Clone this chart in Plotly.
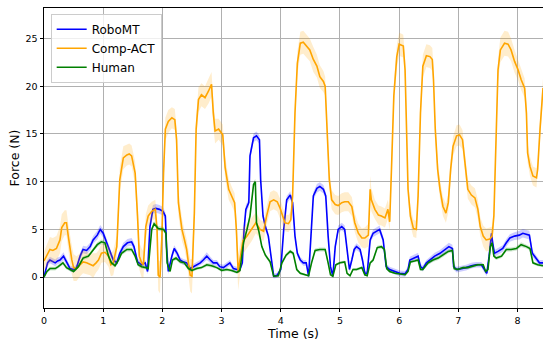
import plotly.graph_objects as go

# ---------------- data ----------------
comp_t = [0.00,0.05,0.10,0.15,0.21,0.27,0.30,0.35,0.38,0.41,
          0.44,0.47,0.50,0.55,0.61,0.66,0.72,0.78,0.83,0.88,
          0.92,0.97,1.03,1.09,1.13,1.17,1.23,1.28,1.34,1.40,
          1.44,1.48,1.54,1.58,1.61,1.65,1.68,1.72,1.76,1.82,
          1.88,1.91,1.93,1.96,1.99,2.02,2.05,2.10,2.16,2.21,
          2.24,2.27,2.33,2.37,2.41,2.44,2.47,2.50,2.54,2.57,
          2.61,2.66,2.72,2.78,2.83,2.86,2.89,2.95,3.02,3.06,
          3.12,3.17,3.22,3.25,3.28,3.31,3.36,3.43,3.51,3.58,
          3.65,3.71,3.76,3.82,3.88,3.94,3.99,4.03,4.07,4.13,
          4.17,4.20,4.24,4.28,4.33,4.38,4.44,4.49,4.55,4.61,
          4.66,4.72,4.75,4.78,4.82,4.86,4.92,4.97,5.03,5.08,
          5.14,5.20,5.25,5.31,5.37,5.42,5.48,5.51,5.53,5.59,
          5.65,5.70,5.76,5.81,5.84,5.87,5.91,5.96,6.00,6.04,
          6.07,6.10,6.12,6.15,6.19,6.24,6.29,6.32,6.36,6.40,
          6.46,6.52,6.56,6.58,6.61,6.65,6.69,6.74,6.79,6.83,
          6.87,6.91,6.97,7.02,7.07,7.11,7.16,7.22,7.28,7.33,
          7.37,7.42,7.47,7.53,7.57,7.60,7.63,7.67,7.71,7.78,
          7.84,7.89,7.95,8.01,8.06,8.12,8.15,8.17,8.21,8.26,
          8.32,8.34,8.38,8.43]
comp_v = [1.7,2.3,2.9,2.8,3.0,3.9,5.2,5.7,5.7,4.3,
          2.8,1.8,1.0,0.9,1.3,1.6,1.5,1.3,1.2,1.5,
          1.8,2.5,2.6,2.2,1.3,1.5,3.2,10.2,12.5,12.8,
          12.9,12.7,10.9,6.4,2.2,1.5,1.3,5.3,6.4,6.9,
          7.1,5.0,0.2,0.0,4.0,11.0,15.5,16.3,16.7,16.5,
          14.4,7.8,5.0,4.0,2.9,1.5,0.2,0.1,6.7,15.5,
          18.6,19.1,18.8,19.5,20.2,17.2,15.3,15.5,14.9,11.5,
          9.2,8.5,7.8,5.0,0.5,1.8,3.8,4.3,5.0,5.7,
          5.0,4.8,6.4,7.9,8.1,7.9,7.2,6.4,5.7,5.6,
          6.0,8.5,17.2,22.4,24.5,24.6,24.2,23.8,22.8,22.1,
          21.0,20.5,20.0,15.5,10.2,8.1,7.6,7.5,7.8,7.9,
          7.9,7.4,5.7,4.6,4.1,4.1,4.4,9.2,8.1,7.1,
          6.5,6.4,6.2,7.1,5.8,11.3,19.0,23.1,24.4,24.3,
          24.2,21.7,15.5,9.2,6.4,5.1,5.0,8.5,17.2,22.1,
          23.2,23.1,22.8,20.7,15.5,11.3,9.2,7.4,6.7,7.8,
          11.3,13.7,14.8,14.9,14.4,12.0,9.2,8.6,8.3,7.1,
          5.3,4.3,3.9,4.0,4.3,6.4,13.7,21.7,23.8,24.5,
          24.4,23.8,22.6,21.7,20.7,19.8,17.2,13.0,11.6,10.6,
          10.4,11.3,15.5,19.8]
comp_s = [1.0,1.2,1.3,1.3,1.3,1.4,1.4,1.3,1.3,1.3,
          1.4,1.5,1.4,1.3,1.2,1.2,1.2,1.1,1.3,1.0,
          1.0,1.0,1.0,1.1,1.2,1.3,1.2,1.3,1.2,1.1,
          1.1,1.1,1.2,1.3,1.4,1.5,1.4,1.3,1.1,1.0,
          1.0,1.3,1.6,1.7,1.5,1.3,1.2,1.2,1.1,1.1,
          1.2,1.3,1.2,1.0,1.1,1.4,1.7,1.8,1.4,1.3,
          1.3,1.2,1.2,1.3,1.3,1.4,1.3,1.1,1.1,1.2,
          1.1,1.0,1.0,1.3,1.9,1.6,1.4,1.3,1.2,1.1,
          1.0,1.0,1.0,1.0,1.0,1.0,1.0,0.9,0.9,0.9,
          0.9,1.0,1.1,1.2,1.2,1.2,1.2,1.2,1.3,1.2,
          1.2,1.1,1.0,1.0,1.0,1.0,1.0,1.0,1.0,1.0,
          1.0,1.0,1.0,1.0,1.0,1.1,1.2,1.4,1.2,1.0,
          1.0,1.0,1.0,1.0,1.0,1.2,1.2,1.2,1.2,1.2,
          1.2,1.1,1.0,1.0,1.0,0.9,0.9,1.0,1.1,1.2,
          1.2,1.2,1.2,1.1,1.0,1.0,1.0,1.0,1.0,1.0,
          1.0,1.0,1.1,1.1,1.0,1.0,1.0,1.0,1.0,1.0,
          1.0,1.1,1.2,1.2,1.0,1.0,1.1,1.2,1.3,1.3,
          1.3,1.2,1.2,1.1,1.1,1.0,1.0,1.0,1.0,1.0,
          1.0,1.0,1.0,1.0]

robo_t = [0.00,0.03,0.06,0.10,0.15,0.19,0.23,0.27,0.33,0.38,
          0.44,0.50,0.55,0.61,0.66,0.72,0.78,0.83,0.90,0.95,
          1.00,1.06,1.12,1.17,1.23,1.28,1.34,1.41,1.48,1.52,
          1.58,1.65,1.71,1.75,1.79,1.84,1.89,1.95,2.01,2.05,
          2.07,2.10,2.16,2.20,2.25,2.30,2.35,2.41,2.47,2.52,
          2.58,2.64,2.69,2.75,2.81,2.86,2.92,2.97,3.03,3.09,
          3.14,3.20,3.26,3.31,3.35,3.38,3.41,3.46,3.48,3.54,
          3.59,3.64,3.66,3.70,3.74,3.79,3.85,3.88,3.94,4.00,
          4.05,4.10,4.16,4.20,4.24,4.28,4.33,4.38,4.43,4.47,
          4.51,4.55,4.61,4.66,4.72,4.76,4.80,4.84,4.88,4.92,
          4.97,5.03,5.08,5.12,5.16,5.20,5.24,5.28,5.34,5.38,
          5.42,5.46,5.51,5.56,5.62,5.67,5.73,5.78,5.84,5.93,
          6.01,6.10,6.15,6.18,6.25,6.32,6.36,6.40,6.46,6.52,
          6.60,6.69,6.77,6.84,6.90,6.92,6.97,7.05,7.13,7.22,
          7.30,7.39,7.44,7.48,7.52,7.56,7.58,7.61,7.67,7.75,
          7.81,7.87,7.95,8.03,8.09,8.16,8.20,8.25,8.31,8.37,
          8.43]
robo_v = [0.0,0.9,1.5,1.8,1.6,1.5,1.7,1.8,2.2,1.6,
          0.9,0.8,1.0,2.2,2.9,2.8,3.2,3.9,4.4,5.0,
          4.6,3.6,2.5,1.8,1.5,2.5,3.2,3.6,3.7,3.2,
          1.6,1.3,1.5,0.6,5.3,7.1,7.2,7.1,6.9,6.4,
          3.2,0.6,2.2,3.0,2.5,1.8,1.6,1.5,0.9,1.1,
          1.3,1.5,1.8,2.2,1.8,1.5,1.5,1.1,1.0,1.3,
          1.5,0.9,0.8,0.8,1.5,5.0,7.1,7.8,12.7,14.6,
          14.8,14.4,10.2,6.4,5.3,4.3,1.8,0.1,0.2,0.8,
          5.0,8.1,8.6,7.8,4.3,2.5,1.8,1.5,1.5,0.1,
          4.3,8.5,9.3,9.5,9.2,8.5,4.3,1.1,0.1,3.2,
          5.0,5.3,5.0,2.9,0.8,1.8,2.9,3.2,2.9,1.8,
          0.4,0.4,3.9,4.6,4.8,5.0,3.9,1.1,0.8,0.6,
          0.4,0.35,0.8,1.8,2.0,2.2,1.1,0.9,1.5,1.8,
          2.2,2.5,2.9,3.2,3.0,1.1,0.8,0.9,1.0,1.2,
          1.3,1.3,0.8,0.4,2.2,4.6,3.6,2.5,2.7,3.0,
          3.6,4.1,4.3,4.4,4.6,4.5,4.4,2.5,2.0,1.5,
          1.5]
robo_s = [0.2,0.3,0.35,0.35,0.35,0.35,0.35,0.35,0.4,0.35,
          0.3,0.3,0.3,0.35,0.4,0.4,0.4,0.4,0.45,0.45,
          0.45,0.4,0.35,0.3,0.3,0.35,0.4,0.4,0.4,0.4,
          0.35,0.3,0.3,0.3,0.4,0.45,0.45,0.45,0.45,0.4,
          0.4,0.3,0.35,0.35,0.35,0.3,0.3,0.3,0.3,0.3,
          0.3,0.3,0.35,0.4,0.35,0.3,0.3,0.3,0.3,0.3,
          0.3,0.3,0.3,0.3,0.3,0.4,0.45,0.45,0.45,0.45,
          0.45,0.45,0.4,0.4,0.35,0.35,0.3,0.25,0.25,0.3,
          0.35,0.4,0.4,0.4,0.35,0.3,0.3,0.3,0.3,0.25,
          0.35,0.4,0.45,0.45,0.45,0.4,0.35,0.3,0.25,0.35,
          0.4,0.4,0.4,0.35,0.3,0.3,0.35,0.35,0.35,0.3,
          0.25,0.25,0.35,0.4,0.4,0.4,0.35,0.3,0.3,0.3,
          0.3,0.3,0.3,0.35,0.35,0.35,0.3,0.3,0.3,0.35,
          0.35,0.35,0.4,0.4,0.4,0.3,0.3,0.3,0.3,0.3,
          0.3,0.3,0.3,0.3,0.35,0.45,0.4,0.35,0.35,0.35,
          0.4,0.4,0.4,0.45,0.45,0.45,0.45,0.35,0.3,0.3,
          0.3]

human_t = [0.00,0.05,0.10,0.19,0.24,0.32,0.38,0.44,0.50,0.58,
           0.66,0.75,0.83,0.90,0.97,1.03,1.09,1.14,1.20,1.26,
           1.31,1.40,1.48,1.54,1.59,1.65,1.72,1.76,1.82,1.86,
           1.93,2.02,2.06,2.08,2.13,2.17,2.23,2.30,2.37,2.44,
           2.50,2.58,2.66,2.75,2.83,2.92,3.00,3.09,3.17,3.26,
           3.31,3.37,3.43,3.48,3.54,3.57,3.59,3.63,3.68,3.74,
           3.82,3.88,3.96,4.02,4.09,4.16,4.21,4.27,4.33,4.41,
           4.47,4.52,4.58,4.66,4.75,4.80,4.84,4.88,4.93,5.00,
           5.08,5.12,5.17,5.22,5.28,5.37,5.42,5.46,5.51,5.56,
           5.63,5.70,5.75,5.79,5.84,5.93,6.01,6.10,6.15,6.19,
           6.26,6.32,6.36,6.40,6.49,6.57,6.66,6.74,6.83,6.90,
           6.93,6.99,7.08,7.16,7.25,7.33,7.42,7.46,7.50,7.54,
           7.57,7.60,7.64,7.73,7.81,7.89,7.98,8.06,8.15,8.21,
           8.26,8.34,8.43]
human_v = [0.0,0.6,0.9,0.9,1.1,1.5,1.0,0.8,0.6,1.1,
           2.0,2.2,2.9,3.4,3.7,3.6,2.2,1.5,1.2,1.8,
           2.5,2.9,2.9,2.2,1.3,1.1,1.0,0.9,5.0,5.6,
           5.1,5.0,4.6,1.5,0.6,1.8,2.0,1.6,1.5,0.9,
           0.7,0.9,1.0,1.3,1.2,1.0,0.7,0.8,0.7,0.5,
           0.7,3.6,5.0,6.4,9.7,10.0,5.7,4.8,3.2,2.3,
           1.6,0.1,0.15,1.5,2.3,2.7,2.5,0.8,0.4,0.25,
           0.15,1.5,2.8,2.9,2.9,1.5,0.25,0.1,1.3,1.5,
           1.6,0.4,0.15,0.8,0.8,1.0,0.25,0.15,1.5,1.8,
           3.1,3.2,2.9,0.9,0.6,0.4,0.35,0.25,0.6,1.6,
           1.7,1.8,0.8,0.8,1.5,1.8,2.0,2.3,2.7,2.8,
           0.9,0.8,1.0,1.0,1.2,1.3,1.3,0.6,0.8,3.2,
           3.6,2.2,2.0,2.2,2.9,2.9,3.0,3.4,3.2,3.0,
           1.5,1.3,1.2]
human_s = [0.1,0.15,0.2,0.2,0.2,0.2,0.2,0.2,0.15,0.2,
           0.2,0.2,0.2,0.25,0.25,0.25,0.2,0.2,0.2,0.2,
           0.2,0.2,0.2,0.2,0.2,0.2,0.2,0.2,0.25,0.25,
           0.25,0.25,0.25,0.2,0.15,0.2,0.2,0.2,0.2,0.2,
           0.15,0.15,0.15,0.2,0.2,0.15,0.15,0.15,0.15,0.15,
           0.15,0.2,0.25,0.25,0.3,0.3,0.25,0.25,0.2,0.2,
           0.2,0.1,0.1,0.2,0.2,0.2,0.2,0.15,0.15,0.1,
           0.1,0.2,0.2,0.2,0.2,0.2,0.1,0.1,0.15,0.15,
           0.15,0.1,0.1,0.15,0.15,0.15,0.1,0.1,0.15,0.2,
           0.2,0.2,0.2,0.15,0.15,0.1,0.1,0.1,0.1,0.15,
           0.15,0.15,0.15,0.15,0.2,0.2,0.2,0.2,0.2,0.2,
           0.15,0.15,0.15,0.15,0.15,0.15,0.15,0.15,0.15,0.25,
           0.25,0.2,0.2,0.2,0.2,0.2,0.2,0.25,0.2,0.2,
           0.15,0.15,0.15]

series = [
    ("RoboMT", robo_t, robo_v, robo_s, "#0000ff", "rgba(0,0,255,0.2)"),
    ("Comp-ACT", comp_t, comp_v, comp_s, "#ffa500", "rgba(255,165,0,0.2)"),
    ("Human", human_t, human_v, human_s, "#008000", "rgba(0,128,0,0.2)"),
]

x_ticks = [0, 1, 2, 3, 4, 5, 6, 7, 8]
y_ticks = [0, 5, 10, 15, 20, 25]

FONT = "DejaVu Sans"

fig = go.Figure()
for name, t, v, s, col, fcol in series:
    upper = [a + b for a, b in zip(v, s)]
    lower = [a - b for a, b in zip(v, s)]
    fig.add_trace(go.Scatter(
        x=t + t[::-1], y=upper + lower[::-1], fill="toself",
        fillcolor=fcol, line=dict(width=0), mode="lines",
        hoverinfo="skip", showlegend=False))
    fig.add_trace(go.Scatter(
        x=t, y=v, mode="lines", name=name,
        line=dict(color=col, width=1.6)))

axis_common = dict(
    showgrid=True, gridcolor="#b0b0b0", gridwidth=0.8,
    zeroline=False, showline=True, linecolor="black", linewidth=0.9,
    ticks="outside", ticklen=3.5, tickwidth=0.8, tickcolor="black",
    tickfont=dict(family=FONT, size=9.5, color="black"),
    automargin=False,
)

fig.update_layout(
    width=543, height=341,
    margin=dict(l=44, r=0, t=8, b=33),
    paper_bgcolor="white", plot_bgcolor="white",
    font=dict(family=FONT, color="black"),
    xaxis=dict(range=[0, 8.43], tickvals=x_ticks, mirror=True,
               title=dict(text="Time (s)", font=dict(family=FONT, size=12.5), standoff=3),
               **axis_common),
    yaxis=dict(range=[-3.23, 28.19], tickvals=y_ticks,
               title=dict(text="Force (N)", font=dict(family=FONT, size=12.5), standoff=3),
               **axis_common),
    legend=dict(x=0.0134, y=0.981, xanchor="left", yanchor="top",
                bgcolor="rgba(255,255,255,0.8)", bordercolor="#cccccc", borderwidth=1,
                font=dict(family=FONT, size=12)),
    showlegend=True,
)

fig.write_html("out.html", config={"displayModeBar": False},
               post_script="document.body.style.margin='0px';document.body.style.overflow='hidden';")
